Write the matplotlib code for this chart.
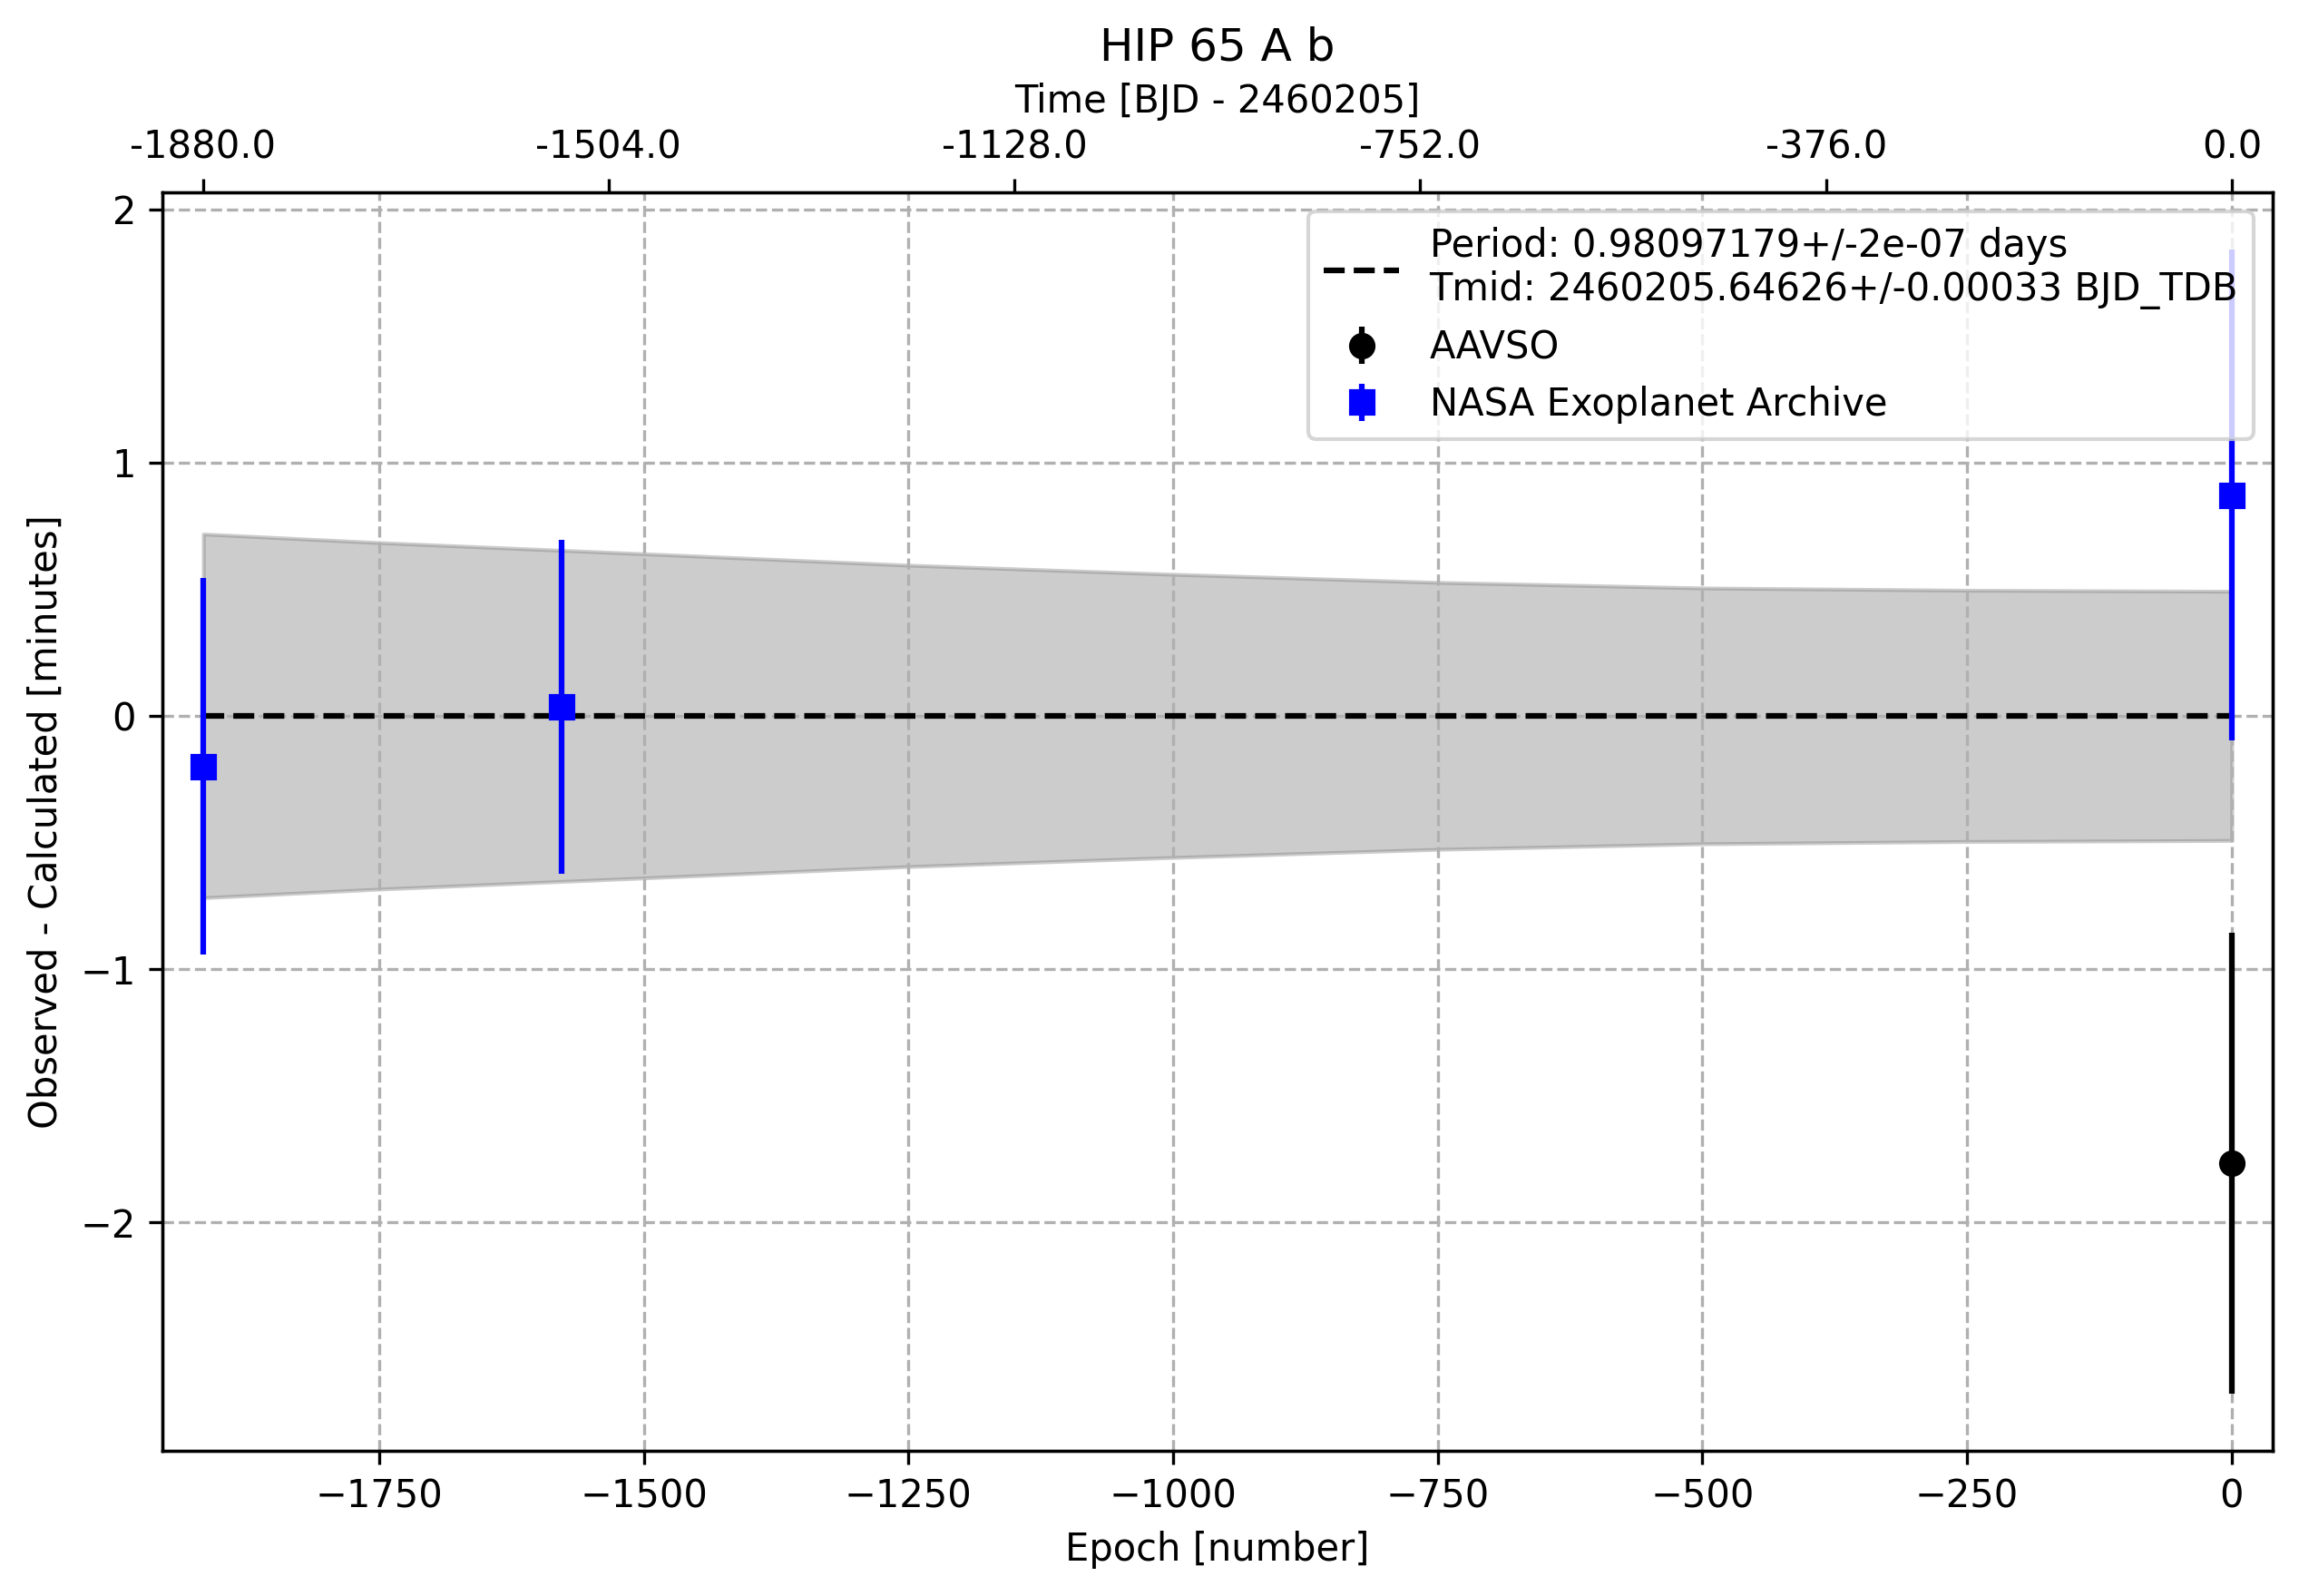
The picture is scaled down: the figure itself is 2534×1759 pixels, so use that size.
import matplotlib

matplotlib.use("Agg")
import matplotlib.pyplot as plt
import numpy as np


# =========================
# Data
# =========================

TITLE = "HIP 65 A b"
PERIOD = 0.98097179
FIT_LABEL = (
    "Period: 0.98097179+/-2e-07 days\n"
    "Tmid: 2460205.64626+/-0.00033 BJD_TDB"
)

# AAVSO observations (epoch, O-C [min], 1-sigma [min])
AAVSO_EPOCH = [0]
AAVSO_OC = [-1.767]
AAVSO_ERR = [0.91]

# NASA Exoplanet Archive ephemerides
NASA_EPOCH = [-1916, -1578, 0]
NASA_OC = [-0.20, 0.037, 0.871]
NASA_ERR = [0.744, 0.659, 0.969]

# 1-sigma envelope of the linear ephemeris (half-width in minutes)
BAND_EPOCH = [-1916, -1750, -1500, -1250, -1000, -750, -500, -250, 0]
BAND_HALF = [0.718, 0.684, 0.640, 0.595, 0.559, 0.527, 0.505, 0.496, 0.492]

# top axis: time since Tmid in days
TIME_TICKS = [-1880.0, -1504.0, -1128.0, -752.0, -376.0, 0.0]


def main() -> None:
    fig, ax = plt.subplots(figsize=(2534 / 300, 1759 / 300), dpi=300)
    fig.subplots_adjust(left=0.0708, right=0.9884, bottom=0.0908, top=0.8793)

    band_x = np.asarray(BAND_EPOCH, dtype=float)
    band_h = np.asarray(BAND_HALF, dtype=float)

    ax.plot(band_x, np.zeros_like(band_x), "k--", label=FIT_LABEL)
    ax.fill_between(band_x, -band_h, band_h, color="grey", alpha=0.4)

    ax.errorbar(AAVSO_EPOCH, AAVSO_OC, yerr=AAVSO_ERR, fmt="o",
                color="black", label="AAVSO")
    ax.errorbar(NASA_EPOCH, NASA_OC, yerr=NASA_ERR, fmt="s",
                color="blue", label="NASA Exoplanet Archive")

    span = band_x.max() - band_x.min()
    ax.set_xlim(band_x.min() - 0.02 * span, band_x.max() + 0.02 * span)

    ax.set_xlabel("Epoch [number]")
    ax.set_ylabel("Observed - Calculated [minutes]")
    ax.grid(True, ls="--")
    ax.legend(loc="upper right")

    ax2 = ax.twiny()
    ax2.set_xlim(ax.get_xlim())
    ax2.set_xticks([t / PERIOD for t in TIME_TICKS])
    ax2.set_xticklabels([f"{t:.1f}" for t in TIME_TICKS])
    ax2.set_xlabel("Time [BJD - 2460205]")

    ax.set_title(TITLE)

    fig.savefig("out.png", dpi=300)
    plt.close(fig)


if __name__ == "__main__":
    main()
